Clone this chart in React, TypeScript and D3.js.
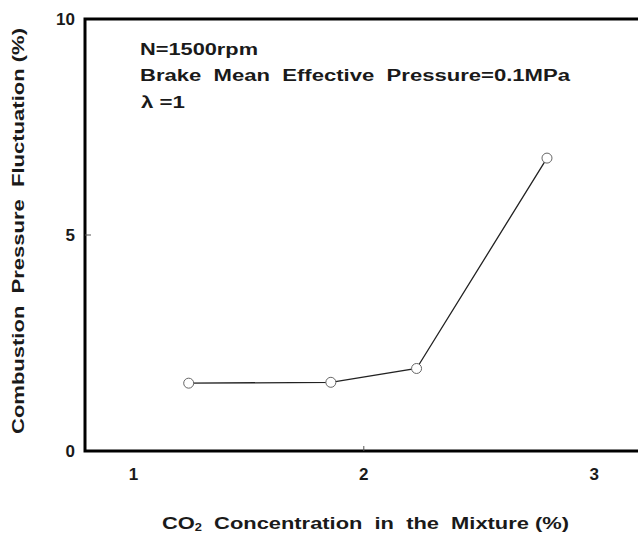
import React from "react";
import * as d3 from "d3";

const co2 = [1.24, 1.857, 2.229, 2.795];
const fluctuation = [1.57, 1.59, 1.91, 6.78];
const xTickValues = [1, 2, 3];
const yTickValues = [0, 5, 10];
const annotations = ["N=1500rpm", "Brake  Mean  Effective  Pressure=0.1MPa", "λ =1"];

const W = 638;
const H = 533;
const left = 85;
const top = 19;
const bottom = 451;
const font = "'Liberation Sans', Arial, Helvetica, sans-serif";

export default function App() {
  const x = d3.scaleLinear().domain([0.79, 3.19]).range([left, 638]);
  const y = d3.scaleLinear().domain([0, 10]).range([bottom, top]);
  const pts = co2.map((c, i) => [x(c), y(fluctuation[i])] as [number, number]);
  const line = d3.line();
  return (
    <svg
      width={W}
      height={H}
      style={{ position: "absolute", left: 0, top: 0, background: "#fff" }}
    >
      <rect x={0} y={0} width={W} height={H} fill="#fff" />
      <path
        d={`M${W + 5},${top} H${left} V${bottom} H${W + 5}`}
        fill="none"
        stroke="#000"
        strokeWidth={3}
      />
      <line x1={x(2)} x2={x(2)} y1={bottom} y2={bottom - 5} stroke="#555" strokeWidth={1} />
      <line x1={left} x2={left + 6} y1={y(5)} y2={y(5)} stroke="#555" strokeWidth={1} />
      {xTickValues.map((v) => (
        <text key={"x" + v} x={x(v)} y={480} textAnchor="middle" fontFamily={font} fontWeight="bold" fontSize={17} fill="#1a1a1a">
          {v}
        </text>
      ))}
      {yTickValues.map((v) => (
        <text key={"y" + v} x={75} y={y(v) + 6} textAnchor="end" fontFamily={font} fontWeight="bold" fontSize={17} fill="#1a1a1a">
          {v}
        </text>
      ))}
      <path d={line(pts) || ""} fill="none" stroke="#222" strokeWidth={1.3} />
      {pts.map((p, i) => (
        <circle key={i} cx={p[0]} cy={p[1]} r={5} fill="#fff" stroke="#666" strokeWidth={1} />
      ))}
      <text x={140} y={55} fontFamily={font} fontWeight="bold" fontSize={16} fill="#1a1a1a" textLength={118} lengthAdjust="spacingAndGlyphs">
        {annotations[0]}
      </text>
      <text x={140} y={81} xmlSpace="preserve" fontFamily={font} fontWeight="bold" fontSize={16} fill="#1a1a1a" textLength={430} lengthAdjust="spacingAndGlyphs">
        {annotations[1]}
      </text>
      <text x={141} y={108} xmlSpace="preserve" fontFamily={font} fontWeight="bold" fontSize={16} fill="#1a1a1a" textLength={44} lengthAdjust="spacingAndGlyphs">
        {annotations[2]}
      </text>
      <text x={162} y={529} xmlSpace="preserve" fontFamily={font} fontWeight="bold" fontSize={17} fill="#1a1a1a" textLength={407} lengthAdjust="spacingAndGlyphs">
        CO<tspan fontSize={10} dy={2}>2</tspan>
        <tspan dy={-2}>{"  Concentration  in  the  Mixture (%)"}</tspan>
      </text>
      <text
        transform={`translate(24,${434}) rotate(-90)`}
        x={0}
        y={0}
        xmlSpace="preserve"
        fontFamily={font}
        fontWeight="bold"
        fontSize={17}
        fill="#1a1a1a"
        textLength={406}
        lengthAdjust="spacingAndGlyphs"
      >
        {"Combustion  Pressure  Fluctuation (%)"}
      </text>
    </svg>
  );
}
